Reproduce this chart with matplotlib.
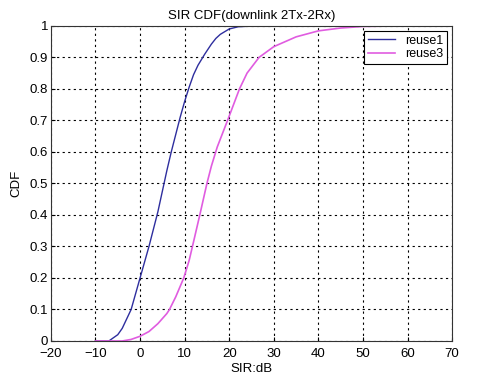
import numpy as np
import matplotlib.pyplot as plt

plt.rcParams['font.family'] = ['Liberation Sans', 'DejaVu Sans']

# values
reuse1_x = [-10, -7, -5, -4, -3, -2, -1, 0, 1, 2, 3, 4, 5, 6, 7, 8, 9, 10,
            11, 12, 13, 14.5, 16, 17, 18, 20, 22, 26]
reuse1_y = [0, 0.0, 0.02, 0.04, 0.07, 0.1, 0.15, 0.2, 0.25, 0.3, 0.355, 0.41,
            0.475, 0.54, 0.6, 0.655, 0.71, 0.76, 0.805, 0.845, 0.875, 0.91,
            0.942, 0.96, 0.973, 0.99, 0.997, 1.0]

reuse3_x = [-10, -4, -2, 0, 2, 4, 6, 6.6, 8, 9.8, 11, 12, 13.4, 15, 16,
            17.3, 19.9, 22.3, 24, 26.7, 30, 35, 40, 45, 50, 55, 61]
reuse3_y = [0, 0.0, 0.005, 0.015, 0.03, 0.055, 0.087, 0.1, 0.14, 0.2, 0.255,
            0.315, 0.4, 0.5, 0.555, 0.615, 0.71, 0.8, 0.85, 0.9, 0.934, 0.965,
            0.984, 0.993, 0.998, 0.999, 1.0]

xticks = list(range(-20, 71, 10))
yticks = [i / 10 for i in range(11)]
ylabels = ['0'] + ['%.1f' % v for v in yticks[1:-1]] + ['1']

fig = plt.figure(figsize=(4.8, 3.77), dpi=100)
ax = fig.add_axes([0.106, 0.0955, 0.836, 0.836])

ax.plot(reuse1_x, reuse1_y, color='#2e2e9e', lw=1.0, label='reuse1')
ax.plot(reuse3_x, reuse3_y, color='#e05ce0', lw=1.2, label='reuse3')

ax.set_xlim(-20, 70)
ax.set_ylim(0, 1)
ax.set_xticks(xticks)
ax.set_yticks(yticks)
ax.set_yticklabels(ylabels)
ax.tick_params(direction='in', labelsize=9.5, length=3)
ax.tick_params(axis='x', pad=5)
ax.tick_params(axis='y', pad=2)
ax.grid(True, color='black', linestyle=(0, (2, 3)), linewidth=0.8)
for s in ax.spines.values():
    s.set_color('#333333')

ax.set_title('SIR CDF(downlink 2Tx-2Rx)', fontsize=9.5, pad=5)
ax.set_xlabel('SIR:dB', fontsize=9.5, labelpad=2)
ax.set_ylabel('CDF', fontsize=9.5, labelpad=5)

leg = ax.legend(loc='upper right', fontsize=9, fancybox=False,
                framealpha=1, edgecolor='black', borderaxespad=0.4,
                handlelength=2.2, borderpad=0.3, labelspacing=0.15)
leg.get_frame().set_linewidth(0.8)

fig.savefig('out.png', dpi=100)
